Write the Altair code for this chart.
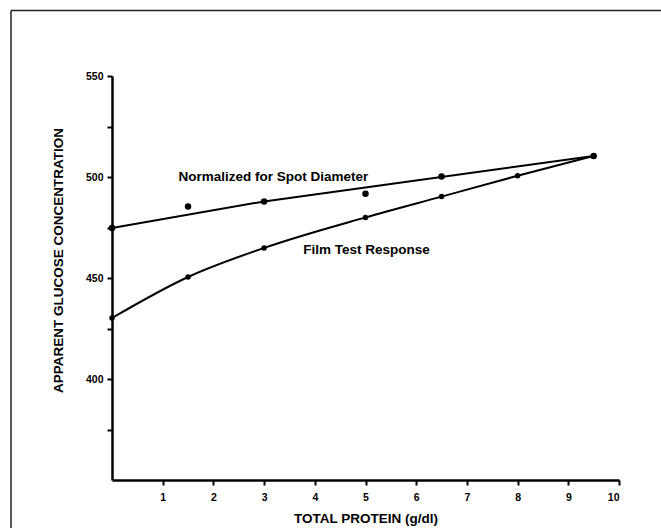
import altair as alt
import pandas as pd

# --- data ---
film_protein = [0, 1.5, 3, 5, 6.5, 8, 9.5]
film_glucose = [430.2, 450.5, 464.9, 480.0, 490.3, 500.6, 510.4]

norm_protein = [0, 1.5, 3, 5, 6.5, 9.5]
norm_glucose = [474.8, 485.4, 487.9, 491.7, 500.2, 510.4]

norm_fit_protein = [0, 3, 9.5]
norm_fit_glucose = [474.8, 487.9, 510.4]

label_text = ["Normalized for Spot Diameter", "Film Test Response"]
label_protein = [1.31, 3.77]
label_glucose = [500.0, 464.0]

x_ticks = [1, 2, 3, 4, 5, 6, 7, 8, 9, 10]
y_ticks = [375, 400, 425, 450, 475, 500, 525, 550]

film_df = pd.DataFrame({"protein": film_protein, "glucose": film_glucose})
norm_df = pd.DataFrame({"protein": norm_protein, "glucose": norm_glucose})
fit_df = pd.DataFrame({"protein": norm_fit_protein, "glucose": norm_fit_glucose})
lab_df = pd.DataFrame({"text": label_text, "protein": label_protein, "glucose": label_glucose})

FONT = "Liberation Sans"

x_enc = alt.X(
    "protein:Q",
    scale=alt.Scale(domain=[0, 10], nice=False, zero=False),
    axis=alt.Axis(
        title="TOTAL PROTEIN (g/dl)",
        values=x_ticks,
        format="d",
        grid=False,
        domainColor="black",
        domainWidth=2.5,
        tickColor="black",
        tickWidth=2,
        tickSize=5,
        labelFont=FONT,
        labelFontWeight="bold",
        labelFontSize=10.5,
        labelColor="black",
        labelPadding=7,
        titleFont=FONT,
        titleFontWeight="bold",
        titleFontSize=13.5,
        titleColor="black",
        titlePadding=9,
    ),
)

y_enc = alt.Y(
    "glucose:Q",
    scale=alt.Scale(domain=[350, 550], nice=False, zero=False),
    axis=alt.Axis(
        title="APPARENT GLUCOSE CONCENTRATION",
        values=y_ticks,
        labelExpr="datum.value % 50 == 0 ? datum.label : ''",
        grid=False,
        domainColor="black",
        domainWidth=2.5,
        tickColor="black",
        tickWidth=2,
        tickSize=5,
        labelFont=FONT,
        labelFontWeight="bold",
        labelFontSize=10.5,
        labelColor="black",
        labelPadding=4,
        titleFont=FONT,
        titleFontWeight="bold",
        titleFontSize=13.5,
        titleColor="black",
        titlePadding=20,
        titleY=184,
    ),
)

film_line = alt.Chart(film_df).mark_line(
    color="black", strokeWidth=2, interpolate="monotone"
).encode(x=x_enc, y=y_enc)
film_pts = alt.Chart(film_df).mark_circle(color="black", opacity=1, size=30).encode(
    x="protein:Q", y="glucose:Q"
)
fit_line = alt.Chart(fit_df).mark_line(color="black", strokeWidth=2).encode(
    x="protein:Q", y="glucose:Q"
)
norm_pts = alt.Chart(norm_df).mark_circle(color="black", opacity=1, size=42).encode(
    x="protein:Q", y="glucose:Q"
)
labels = alt.Chart(lab_df).mark_text(
    align="left", baseline="middle", font=FONT, fontWeight="bold", fontSize=13.5, color="black"
).encode(x="protein:Q", y="glucose:Q", text="text:N")

# decorative frame (top and left edges visible in the reference)
frame_top = alt.Chart().mark_rule(color="#222222", strokeWidth=1.5).encode(
    x=alt.value(-101), x2=alt.value(560), y=alt.value(-65.5)
)
frame_left = alt.Chart().mark_rule(color="#222222", strokeWidth=1.5).encode(
    x=alt.value(-101), y=alt.value(-65.5), y2=alt.value(460)
)

chart = (
    alt.layer(film_line, fit_line, film_pts, norm_pts, labels, frame_top, frame_left)
    .properties(
        width=507,
        height=404,
        autosize=alt.AutoSizeParams(type="none"),
        padding={"left": 112, "top": 76, "right": 42, "bottom": 48},
        background="white",
    )
    .configure_view(stroke=None)
)

chart.save("out.html", embed_options={"renderer": "svg", "actions": False})
